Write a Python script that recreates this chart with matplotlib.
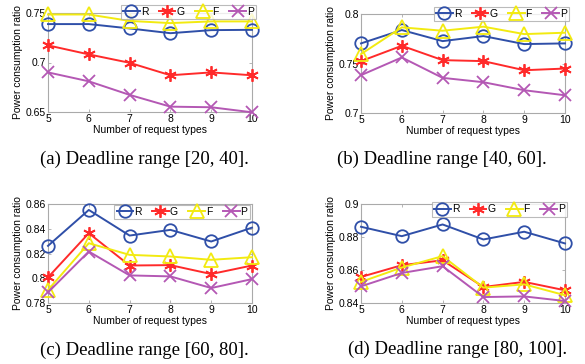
import numpy as np
import matplotlib.pyplot as plt

# data
x = [5, 6, 7, 8, 9, 10]
labels = ["R", "G", "F", "P"]

r_a = [0.7388, 0.7388, 0.7344, 0.7296, 0.7327, 0.7330]
g_a = [0.7173, 0.7082, 0.6997, 0.6871, 0.6900, 0.6871]
f_a = [0.7485, 0.7485, 0.7420, 0.7398, 0.7415, 0.7415]
p_a = [0.6900, 0.6810, 0.6673, 0.6554, 0.6548, 0.6497]

r_b = [0.7703, 0.7838, 0.7726, 0.7777, 0.7696, 0.7703]
g_b = [0.7524, 0.7679, 0.7534, 0.7524, 0.7432, 0.7449]
f_b = [0.7595, 0.7865, 0.7831, 0.7872, 0.7797, 0.7811]
p_b = [0.7382, 0.7561, 0.7355, 0.7311, 0.7230, 0.7179]

r_c = [0.8262, 0.8552, 0.8345, 0.8391, 0.8297, 0.8409]
g_c = [0.8007, 0.8364, 0.8103, 0.8106, 0.8034, 0.8103]
f_c = [0.7905, 0.8283, 0.8189, 0.8176, 0.8149, 0.8170]
p_c = [0.7886, 0.8216, 0.8023, 0.8015, 0.7921, 0.7993]

r_d = [0.8862, 0.8805, 0.8876, 0.8785, 0.8832, 0.8761]
g_d = [0.8558, 0.8629, 0.8659, 0.8497, 0.8528, 0.8477]
f_d = [0.8528, 0.8615, 0.8684, 0.8493, 0.8513, 0.8447]
p_d = [0.8501, 0.8582, 0.8623, 0.8436, 0.8440, 0.8412]

captions = ["(a) Deadline range [20, 40].", "(b) Deadline range [40, 60].",
            "(c) Deadline range [60, 80].", "(d) Deadline range [80, 100]."]
ylims = [(0.65, 0.75), (0.7, 0.8), (0.78, 0.86), (0.84, 0.9)]
yticks = [[0.65, 0.7, 0.75], [0.7, 0.75, 0.8],
          [0.78, 0.8, 0.82, 0.84, 0.86], [0.84, 0.86, 0.88, 0.9]]
ytick_labels = [["0.65", "0.7", "0.75"], ["0.7", "0.75", "0.8"],
                ["0.78", "0.8", "0.82", "0.84", "0.86"], ["0.84", "0.86", "0.88", "0.9"]]
series = [[r_a, g_a, f_a, p_a], [r_b, g_b, f_b, p_b],
          [r_c, g_c, f_c, p_c], [r_d, g_d, f_d, p_d]]

colors = ["#2f4fa8", "#ff2a2a", "#f2ea10", "#b458b4"]
asterisk = (6, 2, 0)
markers = ["o", asterisk, "^", "x"]
msizes = [9, 9, 10, 8]

plt.rcParams["font.family"] = ["Liberation Sans", "DejaVu Sans"]

W, H = 585, 364
fig = plt.figure(figsize=(W / 100, H / 100), dpi=100)

# axes boxes in pixels: left, top, right, bottom
boxes = [(48, 13, 252, 112), (361, 14, 565, 113),
         (48, 204, 252, 303), (361, 204, 565, 303)]
cap_pos = [(144, 159), (442, 159), (144, 350), (458, 349)]
leg_boxes = [(122, 5, 255, 19), (432, 8, 571, 20),
             (112, 204, 252, 220), (430, 203, 569, 216)]

for i in range(4):
    l, t, r, b = boxes[i]
    ax = fig.add_axes([l / W, 1 - b / H, (r - l) / W, (b - t) / H])
    for j in range(4):
        ax.plot(x, series[i][j], color=colors[j], lw=1.4, marker=markers[j],
                ms=msizes[j], mfc="none", mec=colors[j], mew=1.3,
                label=labels[j], clip_on=False, zorder=3 + j)
    ax.set_xlim(5, 10)
    ax.set_ylim(*ylims[i])
    ax.set_xticks(x)
    ax.set_yticks(yticks[i])
    ax.set_yticklabels(ytick_labels[i])
    ax.tick_params(direction="in", length=2, width=0.6, labelsize=7.5,
                   top=True, right=True, pad=1.5, colors="#aaaaaa",
                   labelcolor="black")
    for s in ax.spines.values():
        s.set_color("#aaaaaa")
        s.set_linewidth(0.8)
    ax.set_xlabel("Number of request types", fontsize=7.5, labelpad=1)
    ax.set_ylabel("Power consumption ratio", fontsize=7.5, labelpad=2)

    ll, lt, lr, lb = leg_boxes[i]
    leg = fig.legend(*ax.get_legend_handles_labels(), ncol=4, fontsize=7.5,
                     loc="center", bbox_to_anchor=((ll + lr) / 2 / W, 1 - (lt + lb) / 2 / H),
                     frameon=True, fancybox=False, handlelength=1.6,
                     handletextpad=0.1, columnspacing=1.0, borderpad=0.2,
                     markerscale=1.0)
    leg.get_frame().set_edgecolor("#aaaaaa")
    leg.get_frame().set_linewidth(0.8)
    leg.set_zorder(10)

    cx, cy = cap_pos[i]
    fig.text(cx / W, 1 - cy / H, captions[i], ha="center", va="center",
             fontsize=13.5, family=["Liberation Serif", "DejaVu Serif"])

fig.savefig("out.png", dpi=100)
